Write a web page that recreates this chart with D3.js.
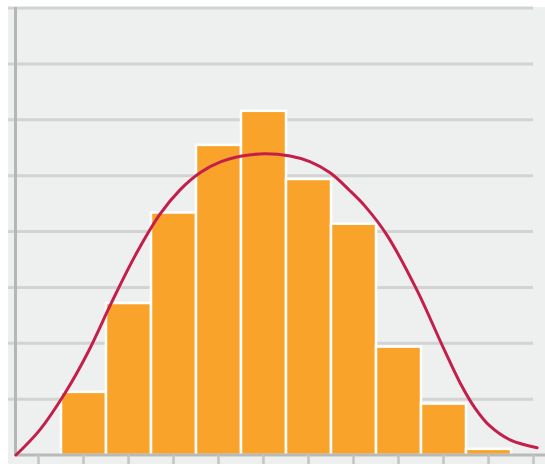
<!DOCTYPE html>
<html>
<head>
<meta charset="utf-8">
<script src="https://cdn.jsdelivr.net/npm/d3@7/dist/d3.min.js"></script>
<style>
html,body{margin:0;padding:0;background:#fff;}
svg{display:block;}
</style>
</head>
<body>
<script>
// Bins (12 slots: empty first and last)
const bins = ["b0","b1","b2","b3","b4","b5","b6","b7","b8","b9","b10","b11"];
const barBins = ["b1","b2","b3","b4","b5","b6","b7","b8","b9","b10"];
const barValues = [1.13, 2.72, 4.34, 5.55, 6.16, 4.94, 4.14, 1.94, 0.92, 0.11];
const gridTicks = [1, 2, 3, 4, 5, 6, 7, 8];
// Density curve points (x in bin units, y in value units)
const curveX = [0, 0.53, 1.09, 1.6, 2.13, 2.67, 3.2, 3.64, 4.09, 4.53, 5.02, 5.53, 6.09, 6.53, 6.98, 7.42, 7.76, 8.24, 8.91, 9.49, 9.87, 10.2, 10.53, 10.98, 11.58];
const curveY = [0, 0.45, 1.11, 1.84, 2.74, 3.6, 4.31, 4.74, 5.05, 5.24, 5.35, 5.39, 5.35, 5.25, 5.05, 4.73, 4.45, 3.94, 2.95, 1.93, 1.29, 0.84, 0.52, 0.27, 0.13];

const W = 545, H = 464;
const svg = d3.select("body").append("svg").attr("width", W).attr("height", H);

const x = d3.scaleBand().domain(bins).range([16, 556]).padding(0);
const xl = d3.scaleLinear().domain([0, 12]).range([16, 556]);
const y = d3.scaleLinear().domain([0, 8]).range([455, 8]);

// panel background
svg.append("rect").attr("x", 8).attr("y", 7).attr("width", W - 8).attr("height", H - 7).attr("fill", "#eef0f0");

// gridlines
svg.append("g").selectAll("line").data(gridTicks).join("line")
  .attr("x1", 8).attr("x2", 533)
  .attr("y1", d => y(d)).attr("y2", d => y(d))
  .attr("stroke", "#d2d4d4").attr("stroke-width", 3);

// bars
svg.append("g").selectAll("rect").data(barValues).join("rect")
  .attr("x", (d, i) => x(barBins[i]))
  .attr("width", x.bandwidth())
  .attr("y", d => y(d))
  .attr("height", d => y(0) - y(d))
  .attr("fill", "#faa32a")
  .attr("stroke", "#ffffff")
  .attr("stroke-width", 2.5);

// left axis
svg.append("line").attr("x1", 15.5).attr("x2", 15.5).attr("y1", 7).attr("y2", 456)
  .attr("stroke", "#b5b7b7").attr("stroke-width", 3);

// bottom axis
const xAxis = svg.append("g").attr("transform", "translate(0,455)")
  .call(d3.axisBottom(x).tickSize(10).tickFormat(""));
xAxis.select(".domain").attr("stroke", "#b8baba").attr("stroke-width", 3).attr("d", "M15,0H545");
xAxis.selectAll(".tick line").attr("stroke", "#c3c5c5").attr("stroke-width", 2.5);

// curve
const pts = curveX.map((v, i) => [v, curveY[i]]);
const line = d3.line().x(d => xl(d[0])).y(d => y(d[1])).curve(d3.curveCatmullRom.alpha(0.5));
svg.append("path").datum(pts).attr("d", line)
  .attr("fill", "none").attr("stroke", "#c41f4b").attr("stroke-width", 3)
  .attr("stroke-linecap", "round");
</script>
</body>
</html>
